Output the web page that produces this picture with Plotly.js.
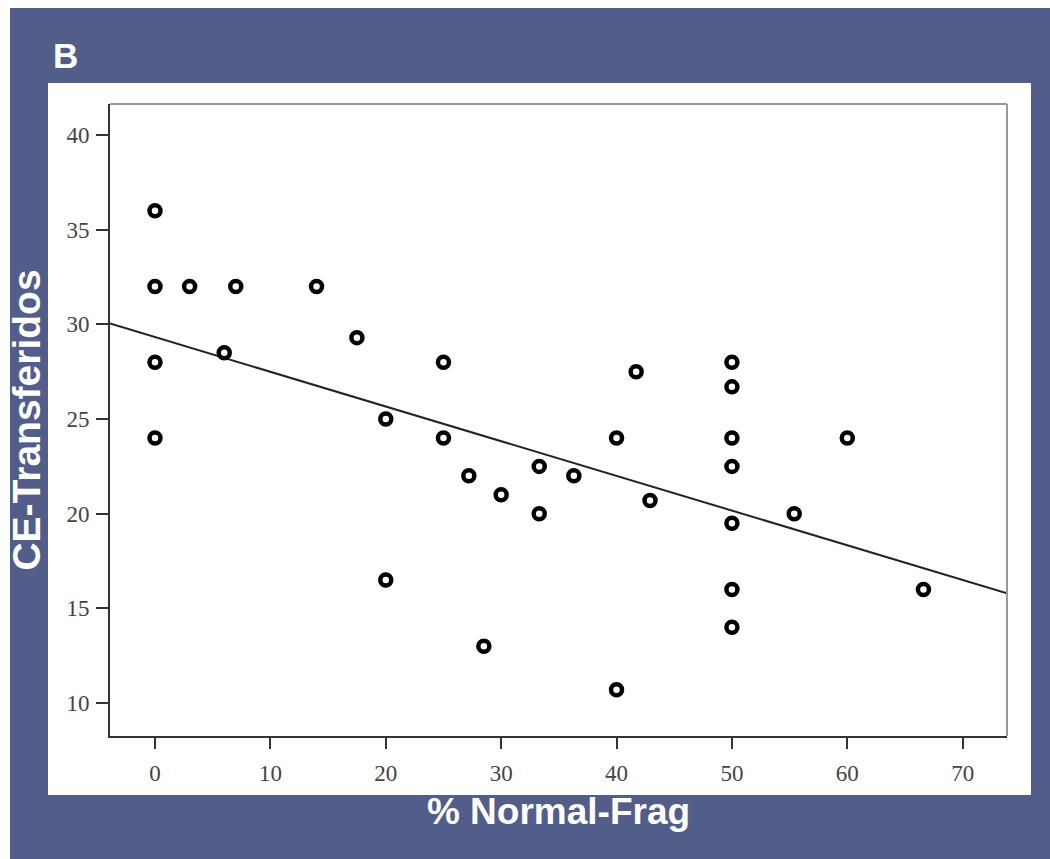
<!DOCTYPE html>
<html>
<head>
<meta charset="utf-8">
<script src="https://cdn.plot.ly/plotly-3.0.1.min.js"></script>
<style>html,body{margin:0;padding:0;background:#fff;}#chart{width:1050px;height:859px;}</style>
</head>
<body>
<div id="chart"></div>
<script>
// Data
const normalFrag = [0, 0, 3, 7, 14, 0, 6, 17.5, 0, 20, 25, 25, 27.2, 30, 33.3, 33.3, 36.3, 20, 28.5, 40, 40, 41.7, 42.9, 50, 50, 50, 50, 50, 50, 50, 55.4, 60, 66.6];
const ceTransferidos = [36, 32, 32, 32, 32, 28, 28.5, 29.3, 24, 25, 28, 24, 22, 21, 22.5, 20, 22, 16.5, 13, 10.7, 24, 27.5, 20.7, 28, 26.7, 24, 22.5, 19.5, 16, 14, 20, 24, 16];
// Fit line: y = intercept + slope * x
const fitIntercept = [29.33];
const fitSlope = [-0.1833];
const xRange = [-3.9, 73.84];
const yRange = [8.26, 41.64];
const xTicks = [0, 10, 20, 30, 40, 50, 60, 70];
const yTicks = [10, 15, 20, 25, 30, 35, 40];

const fitX = xRange.slice();
const fitY = fitX.map(x => fitIntercept[0] + fitSlope[0] * x);

const blue = '#535D89';
const W = 897, H = 632, L = 110, T = 104;
const px = x => (x - L) / W;
const py = y => (T + H - y) / H;

const traces = [
  {x: fitX, y: fitY, mode: 'lines', line: {color: '#222', width: 2}, hoverinfo: 'skip', showlegend: false},
  {x: normalFrag, y: ceTransferidos, mode: 'markers', type: 'scatter',
   marker: {symbol: 'circle-open', size: 11, color: '#000', line: {width: 4.5, color: '#000'}}, showlegend: false}
];

const tickFont = {family: '"Liberation Serif", "DejaVu Serif", serif', size: 23, color: '#444'};
const sans = '"Liberation Sans", Arial, sans-serif';

const layout = {
  width: 1050, height: 859,
  margin: {l: L, r: 1050 - L - W, t: T, b: 859 - T - H, pad: 0},
  paper_bgcolor: blue,
  plot_bgcolor: '#ffffff',
  showlegend: false,
  xaxis: {
    range: xRange, tickvals: xTicks, ticktext: xTicks.map(String),
    showgrid: false, zeroline: false, showline: true, linecolor: '#333', linewidth: 2,
    ticks: 'outside', ticklen: 11, tickwidth: 2, tickcolor: '#333', tickfont: tickFont,
    ticklabelstandoff: 4,
    title: {text: '% Normal-Frag', font: {family: sans, size: 37, color: '#fff', weight: 'bold'}, standoff: 14}
  },
  yaxis: {
    range: yRange, tickvals: yTicks, ticktext: yTicks.map(String),
    showgrid: false, zeroline: false, showline: true, linecolor: '#333', linewidth: 2,
    ticks: 'outside', ticklen: 12, tickwidth: 2, tickcolor: '#333', tickfont: tickFont,
    ticklabelstandoff: 2,
    title: {text: 'CE-Transferidos', font: {family: sans, size: 39, color: '#fff', weight: 'bold'}, standoff: 14}
  },
  shapes: [
    // white outer margins (left, top)
    {type: 'rect', xref: 'paper', yref: 'paper', x0: px(0), x1: px(10), y0: py(859), y1: py(0), fillcolor: '#fff', line: {width: 0}, layer: 'below'},
    {type: 'rect', xref: 'paper', yref: 'paper', x0: px(0), x1: px(1050), y0: py(8), y1: py(0), fillcolor: '#fff', line: {width: 0}, layer: 'below'},
    // white panel
    {type: 'rect', xref: 'paper', yref: 'paper', x0: px(48), x1: px(1031), y0: py(795), y1: py(83), fillcolor: '#fff', line: {width: 0}, layer: 'below'},
    // gray top and right frame
    {type: 'line', xref: 'paper', yref: 'paper', x0: 0, x1: 1, y0: 1, y1: 1, line: {color: '#999', width: 2}},
    {type: 'line', xref: 'paper', yref: 'paper', x0: 1, x1: 1, y0: 0, y1: 1, line: {color: '#999', width: 2}}
  ],
  annotations: [
    {text: 'B', xref: 'paper', yref: 'paper', x: px(51), y: py(55), xanchor: 'left', yanchor: 'middle', showarrow: false,
     font: {family: sans, size: 35, color: '#fff', weight: 'bold'}}
  ]
};

Plotly.newPlot('chart', traces, layout, {staticPlot: true, displayModeBar: false});
</script>
</body>
</html>
